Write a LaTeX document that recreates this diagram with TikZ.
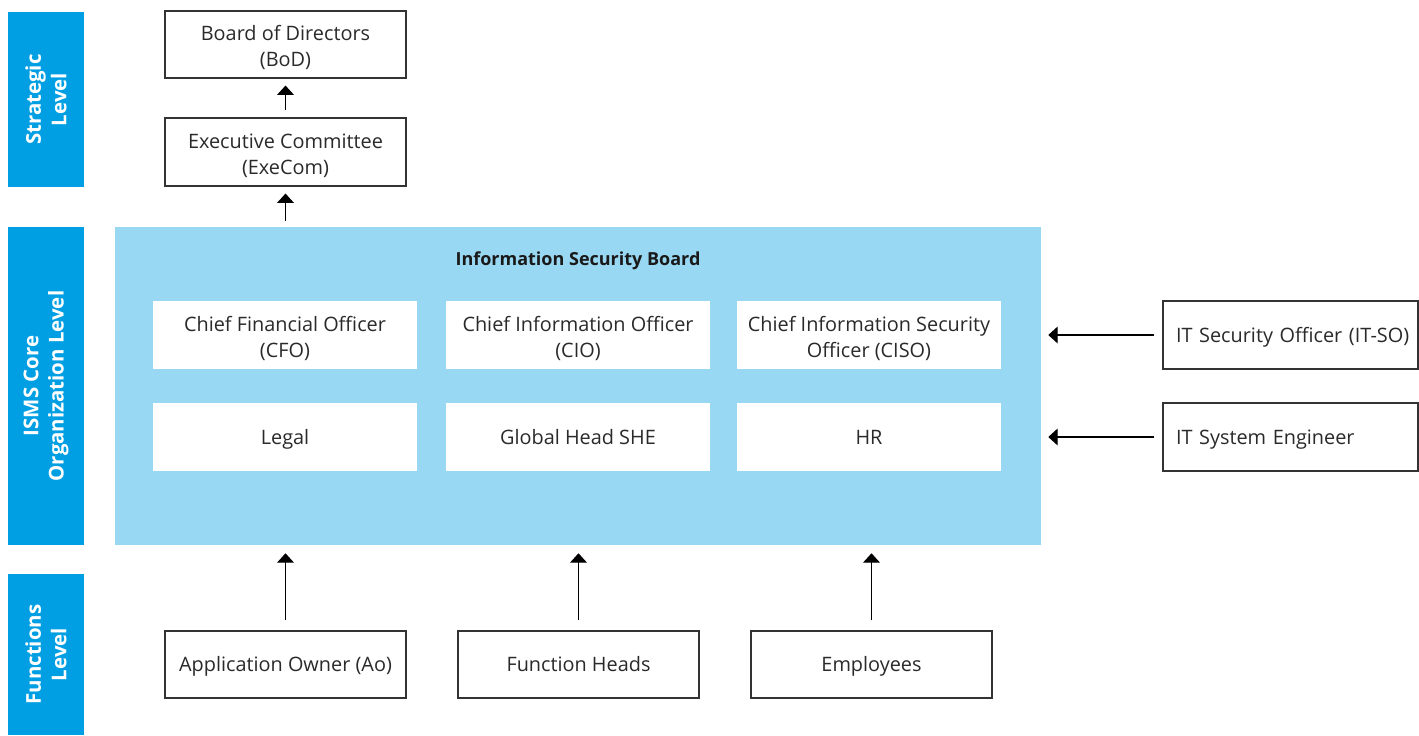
\documentclass[tikz,border=0pt]{standalone}
\usepackage{fontspec}
\setmainfont{Open Sans}
\usetikzlibrary{arrows.meta}
\definecolor{strongblue}{HTML}{009FE3}
\definecolor{lightblue}{HTML}{99D8F3}
\definecolor{txt}{HTML}{2A2A2A}
\newcommand\tfix{\rule{0pt}{16.5pt}\strut}
\begin{document}
\begin{tikzpicture}[x=0.75pt,y=-0.75pt,
  box/.style={draw=black!80,line width=0.8pt,fill=white,text=txt,align=center,inner sep=0pt,
    font=\fontsize{14.9}{19.5}\selectfont},
  wbox/.style={fill=white,text=txt,align=center,inner sep=0pt,
    font=\fontsize{14.9}{19.5}\selectfont,minimum width=0.75*264pt,minimum height=0.75*68pt},
  levelbar/.style={fill=strongblue,text=white,align=center,rotate=90,inner sep=0pt,
    font=\bfseries\fontsize{15.3}{19}\selectfont,minimum height=0.75*76pt},
  arr/.style={line width=0.8pt,-{Triangle[length=7pt,width=12.5pt]}}]
\useasboundingbox (0,0) rectangle (1419,735);
% level bars
\node[levelbar,minimum width=0.75*175pt] (strat) at (46,99.5) {Strategic\\Level};
\node[levelbar,minimum width=0.75*318pt] (core) at (46,386) {ISMS Core\\Organization Level};
\node[levelbar,minimum width=0.75*161pt] (func) at (46,654.5) {Functions\\Level};
% strategic
\node[box,minimum width=0.75*241pt,minimum height=0.75*67pt] (bod) at (285.5,44.5) {\tfix Board of Directors\\(BoD)};
\node[box,minimum width=0.75*241pt,minimum height=0.75*68pt] (exe) at (285.5,152) {\tfix Executive Committee\\(ExeCom)};
% ISB
\node[fill=lightblue,minimum width=0.75*926pt,minimum height=0.75*318pt,inner sep=0pt] (isb) at (578,386) {};
\node[text=black!90,font=\bfseries\fontsize{13.5}{16}\selectfont] (isbt) at (578,260.5) {Information Security Board};
\node[wbox] (cfo) at (285,335) {\tfix Chief Financial Officer\\(CFO)};
\node[wbox] (cio) at (578,335) {\tfix Chief Information Officer\\(CIO)};
\node[wbox] (ciso) at (869,335) {\tfix Chief Information Security\\Officer (CISO)};
\node[wbox] (legal) at (285,437) {\tfix Legal};
\node[wbox] (she) at (578,437) {\tfix Global Head SHE};
\node[wbox] (hr) at (869,437) {\tfix HR};
% right
\node[box,align=left,text width=0.75*229pt,inner xsep=0.75*13pt,minimum height=0.75*68pt] (itso) at (1290.5,335) {\tfix\mbox{IT Security Officer (IT-SO)}};
\node[box,align=left,text width=0.75*229pt,inner xsep=0.75*13pt,minimum height=0.75*68pt] (itse) at (1290.5,437) {\tfix IT System Engineer};
% bottom
\node[box,minimum width=0.75*241pt,minimum height=0.75*67pt] (ao) at (285.5,664.5) {\tfix Application Owner (Ao)};
\node[box,minimum width=0.75*241pt,minimum height=0.75*67pt] (fh) at (578.5,664.5) {\tfix Function Heads};
\node[box,minimum width=0.75*241pt,minimum height=0.75*67pt] (emp) at (871.5,664.5) {\tfix Employees};
% arrows
\draw[arr,shorten <=0.75*7pt,shorten >=0.75*7pt] (exe.north) -- (bod.south);
\draw[arr,shorten <=0.75*6pt,shorten >=0.75*7pt] (isb.north -| exe.south) -- (exe.south);
\draw[arr,shorten <=0.75*8pt,shorten >=0.75*7pt] (itso.west) -- (itso.west -| isb.east);
\draw[arr,shorten <=0.75*8pt,shorten >=0.75*7pt] (itse.west) -- (itse.west -| isb.east);
\draw[arr,shorten <=0.75*10pt,shorten >=0.75*8pt] (ao.north) -- (ao.north |- isb.south);
\draw[arr,shorten <=0.75*10pt,shorten >=0.75*8pt] (fh.north) -- (fh.north |- isb.south);
\draw[arr,shorten <=0.75*10pt,shorten >=0.75*8pt] (emp.north) -- (emp.north |- isb.south);
\end{tikzpicture}
\end{document}
